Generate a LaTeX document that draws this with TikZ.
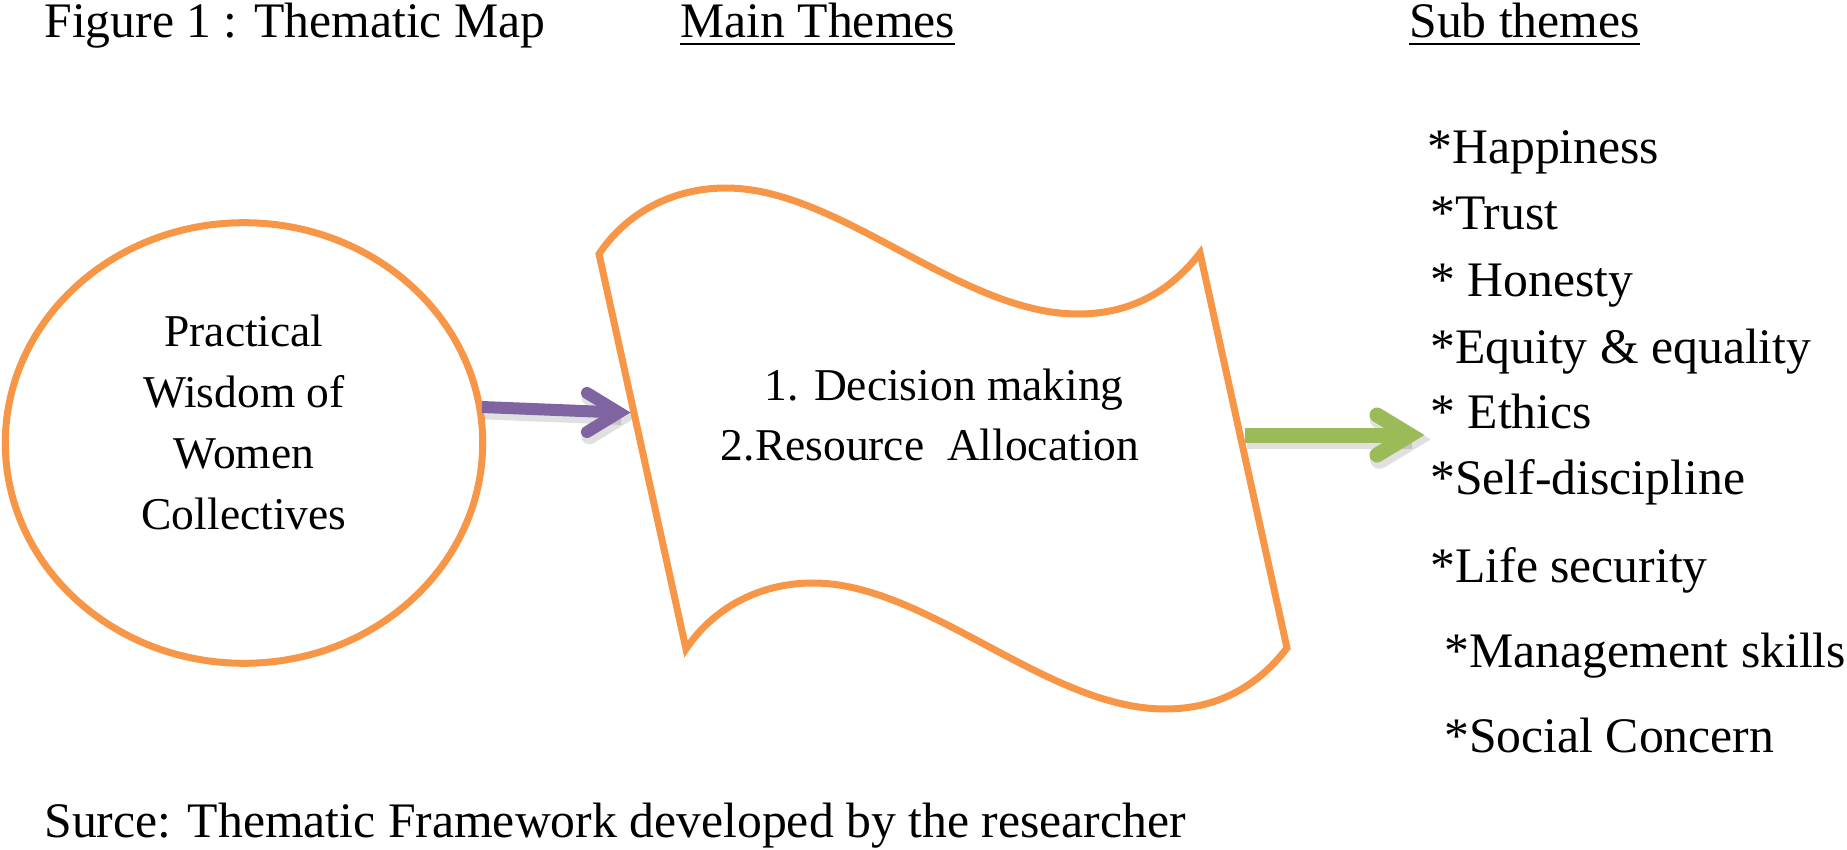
\documentclass[tikz,border=0pt]{standalone}
\usepackage{fontspec}
\setmainfont{Liberation Serif}
\usetikzlibrary{shapes.geometric,calc}
\definecolor{wOrange}{HTML}{F79646}
\definecolor{wPurple}{HTML}{8064A2}
\definecolor{wGreen}{HTML}{9BBB59}
\begin{document}
\begin{tikzpicture}[x=0.5pt,y=-0.5pt,
  big/.style={inner sep=0pt, font=\fontsize{24.85pt}{30pt}\selectfont},
  item/.style={big, anchor=base west},
  midtext/.style={inner sep=0pt, align=center},
  uline/.style={line width=1.25pt},
  orangeline/.style={draw=wOrange, line width=3.5pt},
  shaft/.style={line width=#1, line cap=butt},
  chevron/.style={line width=#1, line cap=round, line join=miter},
  shade/.style={black, draw opacity=0.12},
]
\useasboundingbox (0,0) rectangle (1847,850);

% headers
\node[item] (fig) at (44,38) {Figure 1 : Thematic Map};
\node[item] (mt) at (680,38) {Main Themes};
\node[item] (st) at (1409,38) {Sub themes};
\draw[uline] ($(mt.base west)+(0,6)$) -- ($(mt.base east)+(0,6)$);
\draw[uline] ($(st.base west)+(0,6)$) -- ($(st.base east)+(0,6)$);

% ellipse
\node[orangeline, ellipse, minimum width=238.7pt, minimum height=220.3pt, inner sep=0pt] (wisdom) at (244,443) {};
\node[midtext, font=\fontsize{22.75pt}{30.4pt}\selectfont] (wisdomtext) at (244,422.5) {Practical\\Wisdom of\\Women\\Collectives};

% arrow end points
\coordinate (pa) at (482,407);
\coordinate (pb) at (619,412.5);
\coordinate (ga) at (1245,435);
\coordinate (gb) at (1410,435);

% soft shadows of the arrows
\begin{scope}[transform canvas={shift={(1.2pt,-2.2pt)}}]
  \draw[shade, shaft=8pt] (pa) -- (pb);
  \draw[shade, chevron=8pt] ($(pb)+(-32,-19.5)$) -- (pb) -- ($(pb)+(-32,19.5)$);
  \draw[shade, shaft=9.5pt] (ga) -- (gb);
  \draw[shade, chevron=9.5pt] ($(gb)+(-33,-20)$) -- (gb) -- ($(gb)+(-33,20)$);
\end{scope}

% wavy shape
\draw[orangeline, fill=white]
  (599,254) .. controls (625,215) and (670,188) .. (726,188)
  .. controls (840,188) and (960,314) .. (1078,314)
  .. controls (1130,314) and (1170,292) .. (1200,253)
  -- (1287,648)
  .. controls (1257,687) and (1217,709) .. (1165,709)
  .. controls (1047,709) and (927,583) .. (813,583)
  .. controls (757,583) and (712,610) .. (686,649)
  -- cycle;
\node[midtext, font=\fontsize{22.75pt}{29.9pt}\selectfont] (themes) at (930,415) {\hspace*{14.25pt}1. Decision making\\2.Resource\ \ Allocation};

% purple arrow
\draw[wPurple, shaft=6pt] (pa) -- (pb);
\draw[wPurple, chevron=6pt] ($(pb)+(-32,-19.5)$) -- (pb) -- ($(pb)+(-32,19.5)$);

% green arrow
\draw[wGreen, shaft=7.5pt] (ga) -- (gb);
\draw[wGreen, chevron=7.5pt] ($(gb)+(-33,-20)$) -- (gb) -- ($(gb)+(-33,20)$);

% sub themes
\node[item] (s1) at (1427,164) {*Happiness};
\node[item] (s2) at (1430,230) {*Trust};
\node[item] (s3) at (1430,297) {* Honesty};
\node[item] (s4) at (1430,363) {*Equity \& equality};
\node[item] (s5) at (1430,428) {* Ethics};
\node[item] (s6) at (1430,494) {*Self-discipline};
\node[item] (s7) at (1430,582) {*Life security};
\node[item] (s8) at (1444,667) {*Management skills};
\node[item] (s9) at (1444,752) {*Social Concern};

% footer
\node[item] (src) at (44,837) {Surce: Thematic Framework developed by the researcher};
\end{tikzpicture}
\end{document}
